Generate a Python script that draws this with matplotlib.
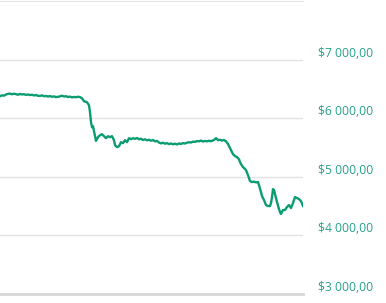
import matplotlib.pyplot as plt
from matplotlib.ticker import FuncFormatter

# sample position (left to right) and closing value in USD
day = [0, 2, 4, 6, 8, 10, 12, 14, 16, 18, 20, 22, 24, 26, 28, 30, 32, 34,
       36, 38, 40, 42, 44, 46, 48, 50, 52, 54, 56, 58, 60, 62, 64, 66, 68,
       70, 72, 74, 76, 78, 80, 82, 84, 87, 89, 90, 91, 92, 93, 94, 95, 96,
       98, 100, 102, 104, 106, 108, 110, 112, 114, 115, 117, 119, 121, 123,
       125, 127, 129, 131, 133, 135, 137, 139, 141, 143, 145, 147, 149, 151,
       153, 155, 157, 159, 161, 163, 165, 167, 169, 171, 173, 175, 177, 179,
       181, 183, 185, 187, 189, 191, 193, 195, 197, 199, 201, 203, 205, 207,
       209, 211, 213, 215, 216, 218, 220, 222, 224, 226, 228, 230, 232, 233,
       235, 237, 239, 240, 242, 243, 245, 246, 248, 250, 252, 254, 256, 258,
       259, 261, 262, 264, 266, 268, 270, 271, 272, 273, 274, 275, 277, 279,
       280, 281, 283, 285, 287, 289, 291, 293, 295, 297, 299, 301, 303]
price = [6375, 6390, 6385, 6405, 6415, 6420, 6408, 6418, 6410, 6400, 6414,
         6405, 6410, 6398, 6405, 6395, 6400, 6388, 6395, 6382, 6380, 6390,
         6375, 6380, 6370, 6378, 6366, 6372, 6360, 6366, 6372, 6385, 6370,
         6375, 6362, 6368, 6356, 6362, 6358, 6366, 6360, 6341, 6290, 6273,
         6221, 6102, 5932, 5847, 5864, 5779, 5693, 5613, 5676, 5710, 5727,
         5693, 5659, 5693, 5676, 5693, 5625, 5540, 5506, 5523, 5591, 5574,
         5625, 5591, 5659, 5642, 5659, 5648, 5662, 5640, 5650, 5628, 5640,
         5622, 5632, 5615, 5628, 5605, 5612, 5585, 5570, 5582, 5565, 5575,
         5558, 5568, 5555, 5565, 5552, 5570, 5560, 5575, 5568, 5582, 5590,
         5585, 5600, 5596, 5610, 5605, 5618, 5602, 5612, 5605, 5615, 5608,
         5620, 5640, 5660, 5625, 5632, 5618, 5628, 5605, 5560, 5489, 5420,
         5387, 5353, 5336, 5300, 5250, 5190, 5165, 5135, 5114, 5029, 4927,
         4910, 4918, 4905, 4910, 4859, 4739, 4671, 4603, 4518, 4501, 4501,
         4552, 4654, 4790, 4773, 4705, 4569, 4450, 4399, 4365, 4433, 4433,
         4484, 4518, 4467, 4552, 4654, 4637, 4620, 4586, 4501]
y_ticks = [3000, 4000, 5000, 6000, 7000]

line_color = '#0b9c72'
label_color = '#26a08c'
grid_color = '#e3e3e3'

plt.rcParams['font.family'] = ['Open Sans', 'DejaVu Sans']

fig = plt.figure(figsize=(3.86, 3.03), dpi=100)
ax = fig.add_axes([0, 9 / 303, 303 / 386, 293 / 303])

ax.plot(day, price, color=line_color, lw=1.7, solid_joinstyle='round')

ax.set_xlim(0, 303)
ax.set_ylim(3000, 8000)
ax.set_xticks([])
ax.set_yticks(y_ticks)
ax.yaxis.tick_right()
ax.yaxis.set_major_formatter(FuncFormatter(
    lambda v, p: '$' + f'{v:,.2f}'.replace(',', ' ').replace('.', ',')))
ax.tick_params(axis='y', length=0, pad=11, labelsize=8.7,
               labelcolor=label_color)
for lbl in ax.get_yticklabels():
    lbl.set_va('bottom')

ax.grid(axis='y', color=grid_color, lw=1)
ax.set_axisbelow(True)
for side in ['left', 'right']:
    ax.spines[side].set_visible(False)
ax.spines['top'].set_color(grid_color)
ax.spines['bottom'].set_color('#d6d6d6')
ax.spines['bottom'].set_linewidth(2)

fig.savefig('out.png', dpi=100)
